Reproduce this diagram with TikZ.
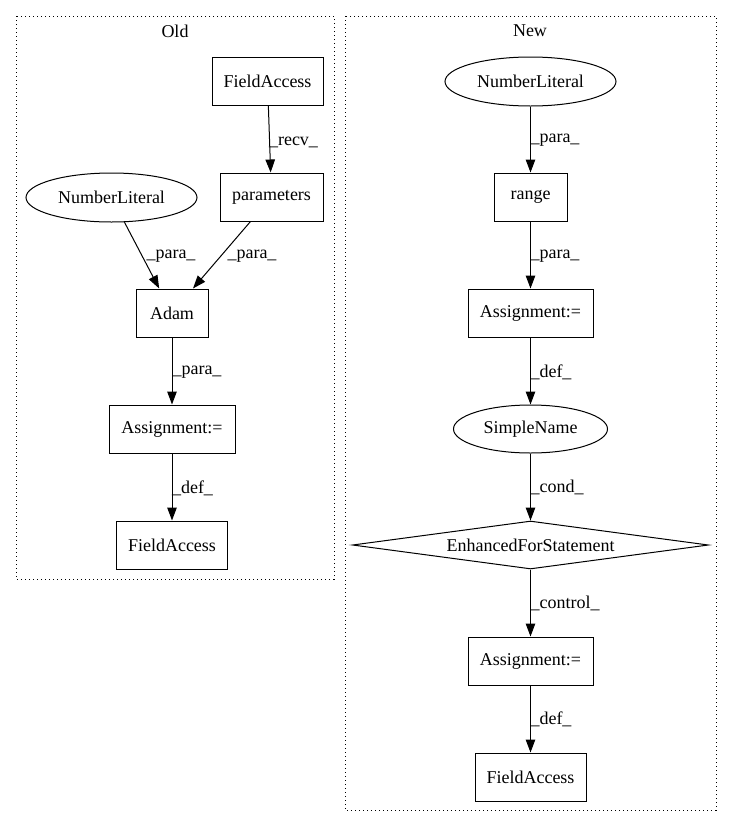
\documentclass[tikz,border=0pt]{standalone}
\usepackage{fontspec}
\setmainfont{Liberation Serif}
\usetikzlibrary{shapes.geometric,arrows.meta}
\begin{document}
\begin{tikzpicture}[x=1pt,y=-1pt,
  every node/.style={font=\fontsize{18}{20}\selectfont},
  box/.style={draw,line width=1pt,rectangle,inner sep=0pt,minimum height=48pt},
  ell/.style={draw,line width=1pt,ellipse,inner sep=0pt,minimum height=49pt},
  dia/.style={draw,line width=1pt,diamond,inner sep=0pt,shape aspect=7.4,minimum width=356pt,minimum height=48pt},
  edge/.style={draw,line width=1pt,-{Triangle[length=13pt,width=9.5pt]}},
  lbl/.style={inner sep=0pt},
  cluster/.style={draw,line width=1pt,dash pattern=on 1pt off 3pt}
]
\useasboundingbox (0,0) rectangle (732,828);
% clusters
\draw[cluster] (16,16) rectangle (334,579);
\draw[cluster] (345,16) rectangle (716,810);
\node[lbl] (toldlbl) at (175,31) {Old};
\node[lbl] (tnewlbl) at (530,31) {New};
% Old nodes
\node[box,minimum width=111pt] (ofa1) at (267.5,81) {FieldAccess};
\node[box,minimum width=103pt] (opar) at (271.5,197) {parameters};
\node[ell,minimum width=171pt] (onl) at (111.5,197.5) {NumberLiteral};
\node[box,minimum width=72pt] (oadam) at (172,313) {Adam};
\node[box,minimum width=126pt] (oasg) at (172,429) {Assignment:=};
\node[box,minimum width=111pt] (ofa2) at (172,545) {FieldAccess};
% Old edges
\draw[edge] (ofa1) -- (opar);
\draw[edge] (onl) -- (oadam);
\draw[edge] (opar) -- (oadam);
\draw[edge] (oadam) -- (oasg);
\draw[edge] (oasg) -- (ofa2);
\node[lbl] (l1) at (293.5,142) {\_recv\_};
\node[lbl] (l2) at (171,256) {\_para\_};
\node[lbl] (l3) at (252,256) {\_para\_};
\node[lbl] (l4) at (197,372) {\_para\_};
\node[lbl] (l5) at (192.5,488) {\_def\_};
% New nodes
\node[ell,minimum width=171pt] (nnl) at (530.5,81.5) {NumberLiteral};
\node[box,minimum width=73pt] (nrange) at (530.5,197) {range};
\node[box,minimum width=125pt] (nasg1) at (530.5,313) {Assignment:=};
\node[ell,minimum width=154pt,minimum height=48pt] (nsn) at (530.5,429) {SimpleName};
\node[dia] (nefs) at (530.5,545) {EnhancedForStatement};
\node[box,minimum width=125pt] (nasg2) at (530.5,661) {Assignment:=};
\node[box,minimum width=111pt] (nfa) at (530.5,777) {FieldAccess};
% New edges
\draw[edge] (nnl) -- (nrange);
\draw[edge] (nrange) -- (nasg1);
\draw[edge] (nasg1) -- (nsn);
\draw[edge] (nsn) -- (nefs);
\draw[edge] (nefs) -- (nasg2);
\draw[edge] (nasg2) -- (nfa);
\node[lbl] (m1) at (555,140) {\_para\_};
\node[lbl] (m2) at (555,256) {\_para\_};
\node[lbl] (m3) at (551,372) {\_def\_};
\node[lbl] (m4) at (557,487) {\_cond\_};
\node[lbl] (m5) at (565,603) {\_control\_};
\node[lbl] (m6) at (551,719) {\_def\_};
\end{tikzpicture}
\end{document}
